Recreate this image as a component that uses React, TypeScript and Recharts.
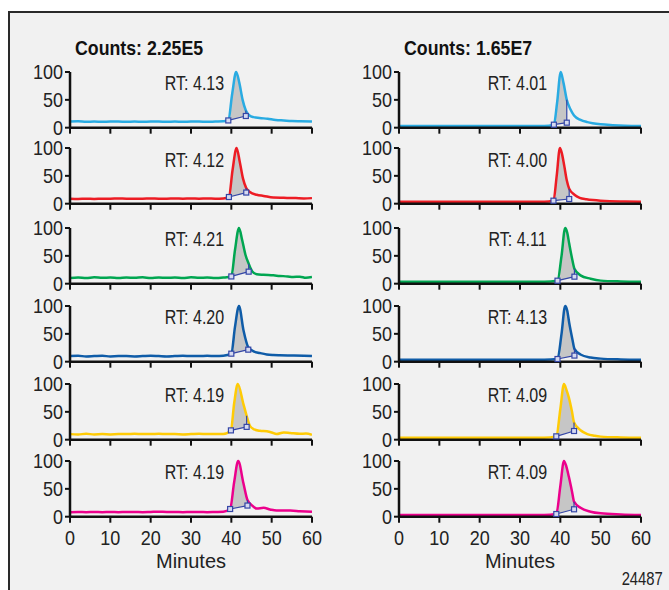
import React from "react";
import { ComposedChart, Line, Area, XAxis, YAxis, ReferenceLine } from "recharts";

const minuteTicks = [0, 10, 20, 30, 40, 50, 60];
const percentTicks = [0, 50, 100];
const countsLabels = ["Counts: 2.25E5", "Counts: 1.65E7"];
const leftRT = ["4.13", "4.12", "4.21", "4.20", "4.19", "4.19"];
const rightRT = ["4.01", "4.00", "4.11", "4.13", "4.09", "4.09"];

// [minutes, relative abundance %]
const leftCyan = [[0, 11], [2, 11.5], [4, 10.5], [6, 11], [8, 10.5], [10, 11], [12, 11], [14, 10.5], [16, 11], [18, 10.5], [20, 11], [22, 11], [24, 10.5], [26, 11], [28, 10.5], [30, 11], [32, 11], [34, 10.5], [36, 11], [38, 11.5], [39.25, 13], [40.2, 60], [41.2, 100], [42, 80], [42.8, 50], [43.6, 31], [44.5, 22], [45.5, 19], [47, 17.5], [49, 16], [51, 14], [53, 13], [55, 12], [57, 11.5], [60, 11]];
const leftRed = [[0, 9], [2, 8.5], [4, 9], [6, 8.5], [8, 9], [10, 9], [12, 9.5], [14, 9], [16, 9], [18, 9], [20, 9.5], [22, 9], [24, 9], [26, 9.5], [28, 9], [30, 9.5], [32, 9], [34, 9.5], [36, 9], [38, 9.5], [39.4, 12], [40.3, 60], [41.3, 100], [42.1, 75], [42.9, 45], [43.7, 28], [44.6, 21], [46.3, 16], [48, 14], [50.4, 11], [53, 10.5], [56, 10], [58, 9.5], [60, 10]];
const leftGreen = [[0, 10], [2, 11], [4, 10], [6, 11.5], [8, 10.5], [10, 11], [12, 10], [14, 11], [16, 10.5], [18, 11.5], [20, 10], [22, 11], [24, 10.5], [26, 11], [28, 10], [30, 11.5], [32, 10.5], [34, 11], [36, 10], [38, 11], [40, 13], [40.9, 60], [41.9, 100], [42.7, 78], [43.5, 52], [44.3, 36], [45.2, 22], [46.3, 17], [48, 16], [50.4, 15], [52, 14], [54, 13], [55.3, 12], [57, 12.5], [58.5, 10.5], [60, 12]];
const leftBlue = [[0, 10], [2, 10.5], [4, 9.5], [6, 10], [8, 10.5], [10, 9.5], [12, 10], [14, 10], [16, 9.5], [18, 10], [20, 10.5], [22, 10], [24, 9.5], [26, 10], [28, 10.5], [30, 10], [32, 10], [34, 10.5], [36, 10], [38, 10.5], [40, 14.4], [40.9, 62], [41.9, 100], [43, 57], [44.2, 26], [45.5, 18.5], [47.1, 15.5], [48.8, 13], [50.4, 12], [52, 11.5], [55.3, 11], [58, 10.5], [60, 10]];
const leftYellow = [[0, 10], [2, 9.5], [4, 10.5], [6, 9.5], [8, 10], [10, 9.5], [12, 10], [14, 10], [16, 10.5], [18, 10], [20, 10], [22, 10.5], [24, 10], [26, 10], [28, 9.5], [30, 10], [32, 10.5], [34, 10], [36, 10], [38, 10], [39.9, 16.7], [40.7, 65], [41.6, 100], [43, 64], [43.8, 43], [44.6, 25], [45.5, 19], [47.1, 16], [48.8, 15], [50, 13], [51.2, 10], [53, 13], [54.6, 12], [57, 10.5], [58.5, 11], [60, 9]];
const leftMagenta = [[0, 8], [2, 8.5], [4, 8], [6, 8.5], [8, 8], [10, 8.5], [12, 8], [14, 8.5], [16, 8.5], [18, 8], [20, 8.5], [22, 9], [24, 8.5], [26, 8.5], [28, 8], [30, 8.5], [32, 8.5], [34, 8], [36, 8.5], [38, 9], [39.7, 13.8], [40.7, 62], [41.7, 100], [43, 60], [44, 30], [45.5, 18], [46.3, 14.5], [48, 16], [49.6, 13], [51.2, 11], [54.6, 11], [57, 10], [60, 9]];

const rightCyan = [[0, 3], [10, 3], [20, 3], [30, 3], [36, 3], [38.4, 5.4], [39.2, 45], [40.1, 100], [40.8, 80], [41.6, 50], [42.5, 33], [43.4, 22], [45, 14], [46.7, 10], [48, 8], [50, 6], [53, 4.5], [56, 3.5], [60, 3]];
const rightRed = [[0, 3.5], [10, 3.5], [20, 3.5], [30, 3.5], [36, 3.5], [38.3, 5.4], [39.1, 50], [39.9, 100], [40.4, 90], [41, 67], [41.6, 42], [42.2, 27], [43.5, 16], [44.8, 10.5], [46.5, 8], [48.1, 6.5], [52.3, 4.5], [56, 4], [60, 3.5]];
const rightGreen = [[0, 3.5], [10, 3.5], [20, 3.5], [30, 3.5], [36, 3.5], [39.3, 5.4], [40.3, 50], [41.2, 100], [41.7, 92], [42.2, 72], [43, 42], [43.5, 27], [45, 15], [47.5, 9], [50, 5.5], [55, 4], [60, 3.5]];
const rightBlue = [[0, 3.5], [10, 3.5], [20, 3.5], [30, 3.5], [36, 3.5], [39.3, 4.8], [40.3, 50], [41.2, 100], [41.7, 92], [42.2, 70], [43, 40], [43.5, 23], [45, 13], [47.5, 7.5], [50, 5.5], [55, 4], [60, 3.5]];
const rightYellow = [[0, 3.5], [10, 3.5], [20, 3.5], [30, 3.5], [36, 3.5], [39, 6], [40, 55], [40.9, 100], [41.5, 90], [42.1, 76], [42.9, 50], [43.4, 31], [45, 17], [46.7, 10], [48.5, 7], [50, 5.5], [55, 4], [60, 3.5]];
const rightMagenta = [[0, 3], [10, 3], [20, 3], [30, 3], [36, 3], [39, 4.8], [40, 55], [40.9, 100], [41.5, 90], [42.1, 72], [42.9, 45], [43.4, 27], [45, 16], [47.5, 9], [50, 6], [55, 4], [60, 3]];

// peak integration baseline: [start min, start %, end min, end %]
const leftMarkers = [[39.25, 13, 43.6, 21], [39.4, 12, 43.7, 20], [40, 13, 44.3, 21.6], [40, 14.4, 44.2, 21.6], [39.9, 16.7, 43.8, 23], [39.7, 13.8, 44, 20]];
const rightMarkers = [[38.4, 5.4, 41.6, 9], [38.3, 5.4, 42.2, 8.4], [39.3, 5.4, 43.5, 12.6], [39.3, 4.8, 43.5, 11], [39, 6, 43.4, 15.6], [39, 4.8, 43.4, 13.3]];

const leftTraces = [leftCyan, leftRed, leftGreen, leftBlue, leftYellow, leftMagenta];
const rightTraces = [rightCyan, rightRed, rightGreen, rightBlue, rightYellow, rightMagenta];

const traceColors = ["#29abe2", "#ed1c24", "#00a651", "#0f5ca8", "#ffcb05", "#ec008c"];
const markerColor = "#3446a6";
const rowTops = [71.7, 148.3, 227.7, 306, 384, 460.7];
const plotH = 55.7;
const colLeft = [70, 399];
const font = '"Liberation Sans", Arial, sans-serif';

const square = (p: any) => (
  <rect
    key={`sq-${p.index}`}
    x={p.cx - 2.5}
    y={p.cy - 2.5}
    width={5}
    height={5}
    fill="#d6daf0"
    stroke={markerColor}
    strokeWidth={1.2}
  />
);

// narrow tick labels (the original uses a condensed face)
const XTick = (p: any) => (
  <text
    transform={`translate(${p.x},${p.y}) scale(0.9,1)`}
    dy="0.71em"
    textAnchor="middle"
    fontSize={20}
    fill="#222"
  >
    {p.payload.value}
  </text>
);
const YTick = (p: any) => (
  <text
    transform={`translate(${p.x},${p.y}) scale(0.9,1)`}
    dy="0.355em"
    textAnchor="end"
    fontSize={20}
    fill="#222"
  >
    {p.payload.value}
  </text>
);
const NoTick = () => <g />;

function Trace({ points, marker, color, bottom }: any) {
  const [x1, y1, x2, y2] = marker;
  const base = (x: number) => y1 + ((y2 - y1) * (x - x1)) / (x2 - x1);
  const rows = points.map(([x, y]: number[]) => ({
    x,
    y,
    band: x >= x1 && x <= x2 ? [base(x), y] : null,
  }));
  const endTop = (points.find((p: number[]) => p[0] === x2) || [x2, y2])[1];
  const markerRows = [
    { x: x1, y: y1 },
    { x: x2, y: y2 },
  ];
  const xh = bottom ? 51.3 : 8;

  return (
    <ComposedChart
      width={302}
      height={12 + plotH + xh + 8}
      data={rows}
      margin={{ top: 12, right: 10, left: 0, bottom: 8 }}
    >
      <XAxis
        dataKey="x"
        type="number"
        domain={[0, 60]}
        ticks={minuteTicks}
        interval={0}
        allowDataOverflow
        height={xh}
        axisLine={{ stroke: "#111", strokeWidth: 2.5 }}
        tickLine={{ stroke: "#111", strokeWidth: 2 }}
        tickSize={6}
        tickMargin={8}
        tick={bottom ? XTick : NoTick}
        label={
          bottom
            ? { value: "Minutes", position: "insideBottom", offset: 0, fill: "#222", fontSize: 20, transform: "" }
            : undefined
        }
      />
      <YAxis
        type="number"
        domain={[0, 100]}
        ticks={percentTicks}
        interval={0}
        width={50}
        axisLine={{ stroke: "#111", strokeWidth: 2.5 }}
        tickLine={{ stroke: "#111", strokeWidth: 2 }}
        tickSize={5}
        tick={YTick}
      />
      <Area
        dataKey="band"
        type="monotone"
        fill="#c6c6c6"
        fillOpacity={1}
        stroke="none"
        dot={false}
        activeDot={false}
        isAnimationActive={false}
      />
      <Line
        dataKey="y"
        type="monotone"
        stroke={color}
        strokeWidth={2.5}
        dot={false}
        activeDot={false}
        isAnimationActive={false}
      />
      <ReferenceLine
        segment={[
          { x: x2, y: y2 },
          { x: x2, y: endTop },
        ]}
        stroke={markerColor}
        strokeWidth={1.2}
      />
      <Line
        data={markerRows}
        dataKey="y"
        type="linear"
        stroke={markerColor}
        strokeWidth={1.2}
        dot={square}
        activeDot={false}
        isAnimationActive={false}
      />
    </ComposedChart>
  );
}

export default function App() {
  const cols = [
    { traces: leftTraces, markers: leftMarkers, rt: leftRT, rtRight: 224 },
    { traces: rightTraces, markers: rightMarkers, rt: rightRT, rtRight: 547 },
  ];
  return (
    <div
      style={{
        position: "absolute",
        left: 0,
        top: 0,
        width: 669,
        height: 590,
        overflow: "hidden",
        background: "#fff",
        fontFamily: font,
        color: "#222",
      }}
    >
      <div
        style={{
          position: "absolute",
          left: 8,
          top: 11,
          right: -10,
          bottom: -10,
          borderLeft: "2px solid #2a2a2a",
          borderTop: "2px solid #2a2a2a",
          background: "#f1f1f1",
        }}
      />
      {countsLabels.map((c, i) => (
        <div
          key={c}
          style={{
            position: "absolute",
            left: i === 0 ? 75 : 404,
            top: 37.2,
            fontSize: 21,
            lineHeight: 1,
            fontWeight: "bold",
            color: "#111",
            whiteSpace: "nowrap",
            transform: "scaleX(0.845)",
            transformOrigin: "left",
          }}
        >
          {c}
        </div>
      ))}
      {cols.map((col, ci) =>
        col.traces.map((pts, ri) => (
          <React.Fragment key={`${ci}-${ri}`}>
            <div
              style={{
                position: "absolute",
                left: colLeft[ci] - 50,
                top: rowTops[ri] - 12,
              }}
            >
              <Trace
                points={pts}
                marker={col.markers[ri]}
                color={traceColors[ri]}
                bottom={ri === 5}
              />
            </div>
            <div
              style={{
                position: "absolute",
                right: 669 - col.rtRight,
                top: rowTops[ri] + 1.4,
                fontSize: 20,
                lineHeight: 1,
                whiteSpace: "nowrap",
                transform: "scaleX(0.8)",
                transformOrigin: "right",
              }}
            >
              RT: {col.rt[ri]}
            </div>
          </React.Fragment>
        ))
      )}
      <div
        style={{
          position: "absolute",
          right: 6,
          top: 569,
          fontSize: 19,
          lineHeight: 1,
          transform: "scaleX(0.78)",
          transformOrigin: "right",
        }}
      >
        24487
      </div>
    </div>
  );
}
